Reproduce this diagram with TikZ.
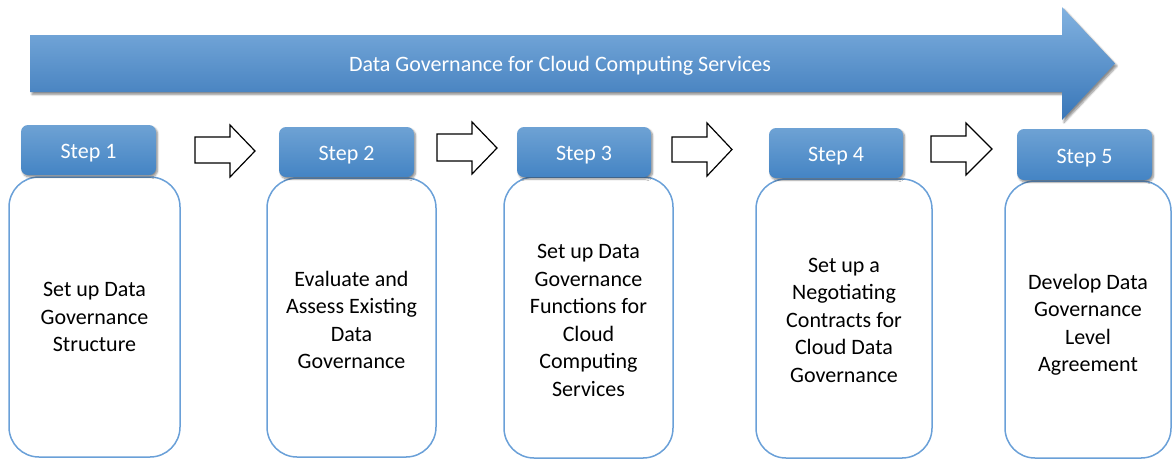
\documentclass[tikz,border=0pt]{standalone}
\usepackage{fontspec}
\setmainfont{Carlito}
\usetikzlibrary{shadows.blur}
\definecolor{bluetop}{RGB}{110,162,212}
\definecolor{bluebot}{RGB}{68,132,196}
\definecolor{arrtop}{RGB}{130,178,224}
\definecolor{arrbot}{RGB}{56,118,184}
\definecolor{boxline}{RGB}{106,160,216}
\begin{document}
\begin{tikzpicture}[x=1pt,y=-1pt,
  stepbox/.style={rounded corners=7pt, top color=bluetop, bottom color=bluebot,
    text=white, font=\fontsize{22}{26}\selectfont, minimum width=135pt,
    minimum height=50pt, inner sep=0pt, text height=17pt, text depth=0pt,
    blur shadow={shadow xshift=1.5pt, shadow yshift=-2pt, shadow blur steps=6, shadow opacity=45}},
  contentbox/.style={draw=boxline, line width=1.5pt, rounded corners=30pt, fill=white,
    align=center, font=\fontsize{22}{27.5}\selectfont, inner sep=0pt, text=black},
  bigarrow/.style={top color=arrtop, bottom color=arrbot,
    blur shadow={shadow xshift=2pt, shadow yshift=-2.5pt, shadow blur steps=6, shadow opacity=45}},
  blockarrow/.style={draw=black, line width=1.2pt, fill=white, line join=miter}]
\useasboundingbox (0,0) rectangle (1172,459);

% big arrow
\path[bigarrow] (30,35) -- (1062,35) -- (1062,7) -- (1115,63.5) -- (1062,120) -- (1062,92) -- (30,92) -- cycle;
\node[text=white, font=\fontsize{22}{26}\selectfont, inner sep=0pt, text height=15pt, text depth=0pt] (title) at (560,63.5) {Data Governance for Cloud Computing Services};

% content boxes
\node[contentbox, minimum width=171pt, minimum height=280pt] (c1) at (94.5,317) {Set up Data\\Governance\\Structure};
\node[contentbox, minimum width=169pt, minimum height=279pt] (c2) at (351.5,317.5) {\rule{0pt}{20pt}Evaluate and\\Assess Existing\\Data\\Governance};
\node[contentbox, minimum width=169pt, minimum height=281pt] (c3) at (588.5,317.5) {\rule{0pt}{20pt}Set up Data\\Governance\\Functions for\\Cloud\\Computing\\Services};
\node[contentbox, minimum width=176pt, minimum height=279pt] (c4) at (844,318.5) {\rule{0pt}{18pt}Set up a\\Negotiating\\Contracts for\\Cloud Data\\Governance};
\node[contentbox, minimum width=166pt, minimum height=277pt] (c5) at (1088,319.5) {\rule{0pt}{26pt}Develop Data\\Governance\\Level\\Agreement};

% step boxes
\node[stepbox] (s1) at (88.5,150) {Step 1};
\node[stepbox] (s2) at (346.5,152) {Step 2};
\node[stepbox, minimum width=134pt] (s3) at (584,152) {Step 3};
\node[stepbox, minimum width=134pt] (s4) at (836,153) {Step 4};
\node[stepbox, minimum height=51pt] (s5) at (1084.5,154.5) {Step 5};

% block arrows
\path[blockarrow] (195,137) -- (230,137) -- (230,125) -- (255,151) -- (230,177) -- (230,163) -- (195,163) -- cycle;
\path[blockarrow] (437,134) -- (472,134) -- (472,122) -- (497,148) -- (472,174) -- (472,161) -- (437,161) -- cycle;
\path[blockarrow] (672,137) -- (707,137) -- (707,123) -- (732,149.5) -- (707,176) -- (707,162) -- (672,162) -- cycle;
\path[blockarrow] (931,136) -- (966,136) -- (966,123) -- (992,149) -- (966,175) -- (966,162) -- (931,162) -- cycle;
\end{tikzpicture}
\end{document}
